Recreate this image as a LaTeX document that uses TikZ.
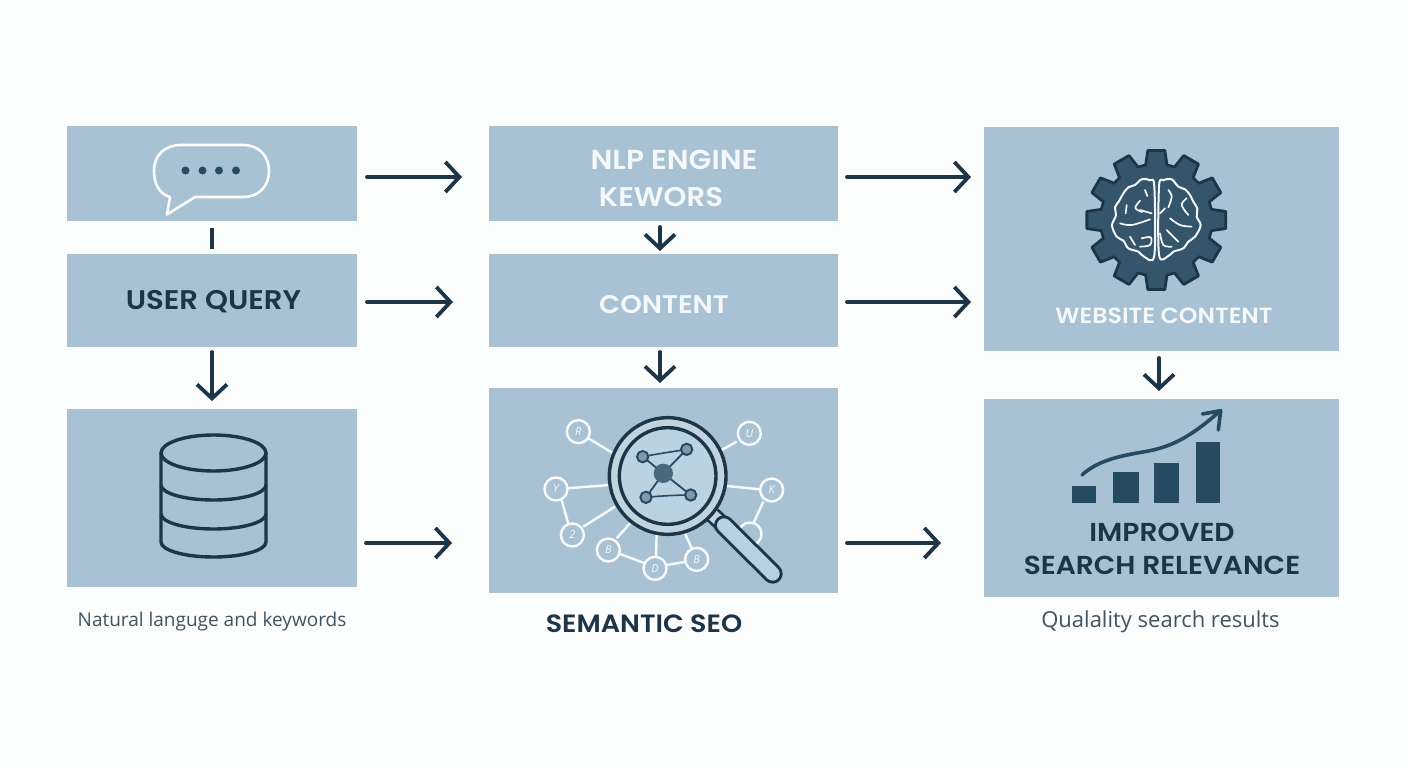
\documentclass[tikz,border=0pt]{standalone}
\usepackage{fontspec}
\setmainfont{Open Sans}
\newfontfamily\headf{Poppins SemiBold}[FakeStretch=1.08]
\usetikzlibrary{arrows.meta}
\definecolor{bgc}{HTML}{FCFDFD}
\definecolor{boxc}{HTML}{A8C2D3}
\definecolor{inkc}{HTML}{1D3547}
\definecolor{iconc}{HTML}{254A62}
\definecolor{gearc}{HTML}{34556C}
\definecolor{lensc}{HTML}{BBD3E1}
\definecolor{wtxt}{HTML}{F4F8FA}
\tikzset{
  panel/.style={fill=boxc,draw=none,inner sep=0pt,outer sep=0pt},
  flow/.style={draw=inkc,line width=3.8pt,line cap=round,line join=round,-{Straight Barb[length=14pt,width=30pt]}},
  stub/.style={draw=inkc,line width=3.8pt},
  head/.style={font=\headf\fontsize{#1}{30}\selectfont,text=inkc,inner sep=0pt},
  headw/.style={font=\headf\fontsize{#1}{30}\selectfont,text=wtxt,inner sep=0pt},
  capt/.style={font=\fontsize{#1}{23}\selectfont,text=inkc!85!white,inner sep=0pt},
  dbline/.style={draw=inkc,line width=3.4pt,line join=round},
  web/.style={draw=white!92!boxc,line width=2.4pt},
  sat/.style={circle,draw=white!92!boxc,line width=2.4pt,minimum size=23pt,inner sep=0pt,text=white!92!boxc,font=\fontsize{11}{12}\selectfont\itshape},
  brainl/.style={draw=white!88!boxc,line width=1.7pt,line cap=round,line join=round},
}
\begin{document}
\begin{tikzpicture}[x=1pt,y=-1pt]
\useasboundingbox (0,0) rectangle (1408,768);
\fill[bgc] (0,0) rectangle (1408,768);

% panels
\node[panel,minimum width=290pt,minimum height=95pt] (a1) at (212,173.5) {};
\node[panel,minimum width=290pt,minimum height=93pt] (a2) at (212,300.5) {};
\node[panel,minimum width=290pt,minimum height=178pt] (a3) at (212,498) {};
\node[panel,minimum width=349pt,minimum height=95pt] (b1) at (663.5,173.5) {};
\node[panel,minimum width=349pt,minimum height=93pt] (b2) at (663.5,300.5) {};
\node[panel,minimum width=349pt,minimum height=205pt] (b3) at (663.5,490.5) {};
\node[panel,minimum width=355pt,minimum height=224pt] (c1) at (1161.5,239) {};
\node[panel,minimum width=355pt,minimum height=198pt] (c2) at (1161.5,498) {};

% connectors
\draw[flow] ([xshift=10pt,yshift=-3.5pt]a1.east) -- ([xshift=-27pt,yshift=-3.5pt]b1.west);
\draw[flow] ([xshift=10pt,yshift=-1.5pt]a2.east) -- ([xshift=-36pt,yshift=-1.5pt]b2.west);
\draw[flow] ([xshift=9pt,yshift=-45pt]a3.east) -- ([xshift=-37pt,yshift=-52.5pt]b3.west);
\draw[flow] ([xshift=9pt,yshift=-3.5pt]b1.east) -- ([xshift=-13pt,yshift=62pt]c1.west);
\draw[flow] ([xshift=9pt,yshift=-1.5pt]b2.east) -- ([xshift=-13pt,yshift=-63pt]c1.west);
\draw[flow] ([xshift=9pt,yshift=-52.5pt]b3.east) -- ([xshift=-43pt,yshift=-45pt]c2.west);
\draw[stub] ([yshift=-7pt]a1.south) -- ([yshift=5pt]a2.north);
\draw[flow] ([yshift=-5pt]a2.south) -- ([yshift=8pt]a3.north);
\draw[flow] ([xshift=-3.5pt,yshift=-6pt]b1.south) -- ([xshift=-3.5pt,yshift=3pt]b2.north);
\draw[flow] ([xshift=-3.5pt,yshift=-5pt]b2.south) -- ([xshift=-3.5pt,yshift=5pt]b3.north);
\draw[flow] ([xshift=-2.5pt,yshift=-7pt]c1.south) -- ([xshift=-2.5pt,yshift=8pt]c2.north);

% texts
\node[head=27] (tuser) at (213.5,302) {USER QUERY};
\node[headw=27.5] (tnlp) at (674,160) {NLP ENGINE};
\node[headw=27] (tkew) at (661,197) {KEWORS};
\node[headw=25.5] (tcont) at (664,305) {CONTENT};
\node[headw=22] (tweb) at (1164,316) {WEBSITE CONTENT};
\node[head=26] (timp) at (1162,532) {IMPROVED};
\node[head=26] (tsea) at (1162,565) {SEARCH RELEVANCE};
\node[head=25] (tsem) at (644,624) {SEMANTIC SEO};
\node[capt=19] (tnat) at (212,622) {Natural languge and keywords};
\node[capt=22] (tqua) at (1160.5,622) {Qualality search results};

% speech bubble
\draw[white!94!boxc,line width=2.6pt,line join=round,fill=boxc]
  (195,197) -- (167,214.5) -- (170,197)
  .. controls (159,194) and (154,183) .. (154,171)
  .. controls (154,155) and (165,145) .. (181,145)
  -- (243,145)
  .. controls (259,145) and (269,156) .. (269,171)
  .. controls (269,186) and (259,197) .. (243,197) -- cycle;
\foreach \px in {185.5,202.5,219,236}
  \fill[iconc] (\px,170.5) circle (4pt);

% database
\draw[dbline] (213.5,453) ellipse (52.5pt and 18pt);
\draw[dbline] (161,453) -- (161,542) arc[start angle=180,end angle=360,x radius=52.5pt,y radius=15pt] -- (266,453);
\draw[dbline] (161,485) arc[start angle=180,end angle=360,x radius=52.5pt,y radius=15pt];
\draw[dbline] (161,514) arc[start angle=180,end angle=360,x radius=52.5pt,y radius=15pt];

% semantic graph and magnifier
\begin{scope}[shift={(520,400)},x=0.33333pt,y=-0.33333pt]
  \foreach \u/\v/\w/\z in {205/115/280/160,650/125/605/150,140/265/270/255,620/258/722/268,125/300/145/372,190/380/285/320,730/305/700/370,290/415/330/370,295/460/375/490,408/470/410/400,440/495/500/485,515/445/495/400}
    \draw[web] (\u,\v) -- (\w,\z);
  \node[sat] (s1) at (175,95) {R};
  \node[sat] (s2) at (688,100) {U};
  \node[sat] (s3) at (108,267) {Y};
  \node[sat] (s4) at (755,270) {K};
  \node[sat] (s5) at (157,405) {2};
  \node[sat] (s6) at (265,450) {B};
  \node[sat] (s7) at (405,505) {D};
  \node[sat] (s8) at (530,478) {B};
  \node[sat] (s9) at (690,402) {};
  % handle
  \draw[inkc,line width=17pt] (578,345) -- (605,370);
  \draw[boxc!70!white,line width=11.5pt] (578,345) -- (605,370);
  \draw[inkc,line width=20pt,line cap=round] (612,376) -- (758,521);
  \draw[lensc!85!boxc,line width=14pt,line cap=round] (612,376) -- (758,521);
  % lens
  \fill[boxc!72!white] (443,228) circle (175);
  \draw[inkc,line width=3.4pt] (443,228) circle (175);
  \draw[inkc,line width=3.4pt,fill=lensc] (443,228) circle (145);
  % inner network
  \draw[iconc,line width=1.6pt] (368,170) .. controls (420,160) and (460,155) .. (500,148);
  \draw[iconc,line width=1.6pt] (378,292) .. controls (420,288) and (470,285) .. (512,285);
  \foreach \u/\v in {368/170,500/148,378/292,512/285}
    \draw[iconc,line width=1.8pt] (430,220) -- (\u,\v);
  \foreach \u/\v in {368/170,500/148,378/292,512/285}
    \draw[iconc,line width=2pt,fill=gearc!45!lensc] (\u,\v) circle (17);
  \fill[gearc!85!lensc] (430,220) circle (29);
\end{scope}

% gear and brain
\begin{scope}[shift={(1060,130)},x=0.33333pt,y=-0.33333pt]
  \begin{scope}[shift={(289,270)}]
  \draw[inkc,fill=gearc,line width=2.8pt,line join=round]
    (-11:168) \foreach \r in {0,30,...,330} {
      -- (\r-11:168) -- (\r-7:210) -- (\r+7:210) -- (\r+11:168)
    } -- cycle;
  \end{scope}
  \draw[brainl,line width=2pt] plot[smooth cycle,tension=0.55] coordinates {(283,170)(270,151)(245,148)(225,165)(205,172)(190,190)(178,212)(165,232)(168,256)(156,286)(170,320)(190,332)(205,355)(235,365)(252,380)(283,376)};
  \draw[brainl,line width=2pt] plot[smooth cycle,tension=0.55] coordinates {(297,170)(310,151)(335,148)(355,170)(375,178)(390,195)(400,215)(412,236)(410,260)(422,286)(405,320)(385,335)(370,355)(340,365)(325,378)(297,374)};
  \draw[brainl] plot[smooth,tension=0.6] coordinates {(255,180)(262,198)};
  \draw[brainl] plot[smooth,tension=0.6] coordinates {(240,212)(226,234)(246,246)};
  \draw[brainl] plot[smooth,tension=0.6] coordinates {(200,225)(197,250)};
  \draw[brainl] plot[smooth,tension=0.6] coordinates {(180,280)(215,285)(270,268)};
  \draw[brainl] plot[smooth,tension=0.6] coordinates {(210,320)(225,345)};
  \draw[brainl] plot[smooth,tension=0.6] coordinates {(240,350)(270,345)(272,322)(245,325)};
  \draw[brainl] plot[smooth,tension=0.6] coordinates {(240,240)(275,250)};
  \draw[brainl] plot[smooth,tension=0.6] coordinates {(325,180)(335,200)(325,232)};
  \draw[brainl] plot[smooth,tension=0.6] coordinates {(380,205)(365,225)(385,255)};
  \draw[brainl] plot[smooth,tension=0.6] coordinates {(330,265)(360,285)(395,290)};
  \draw[brainl] plot[smooth,tension=0.6] coordinates {(320,300)(340,320)(355,335)};
  \draw[brainl] plot[smooth,tension=0.6] coordinates {(300,310)(310,345)(335,350)};
  \draw[brainl] plot[smooth,tension=0.6] coordinates {(300,250)(315,235)};
\end{scope}

% growth chart
\begin{scope}[shift={(1020,400)},x=0.33333pt,y=-0.33333pt]
  \fill[iconc] (155,258) rectangle (229,310);
  \fill[iconc] (280,217) rectangle (356,310);
  \fill[iconc] (403,189) rectangle (478,310);
  \fill[iconc] (527,126) rectangle (601,310);
  \draw[iconc,line width=3.6pt,line cap=round,line join=round]
    (186,225) .. controls (240,175) and (320,165) .. (385,153)
    .. controls (470,137) and (530,95) .. (600,33);
  \draw[iconc,line width=3.6pt,line cap=round,line join=round]
    (547,42) -- (602,32) -- (595,90);
\end{scope}
\end{tikzpicture}
\end{document}
